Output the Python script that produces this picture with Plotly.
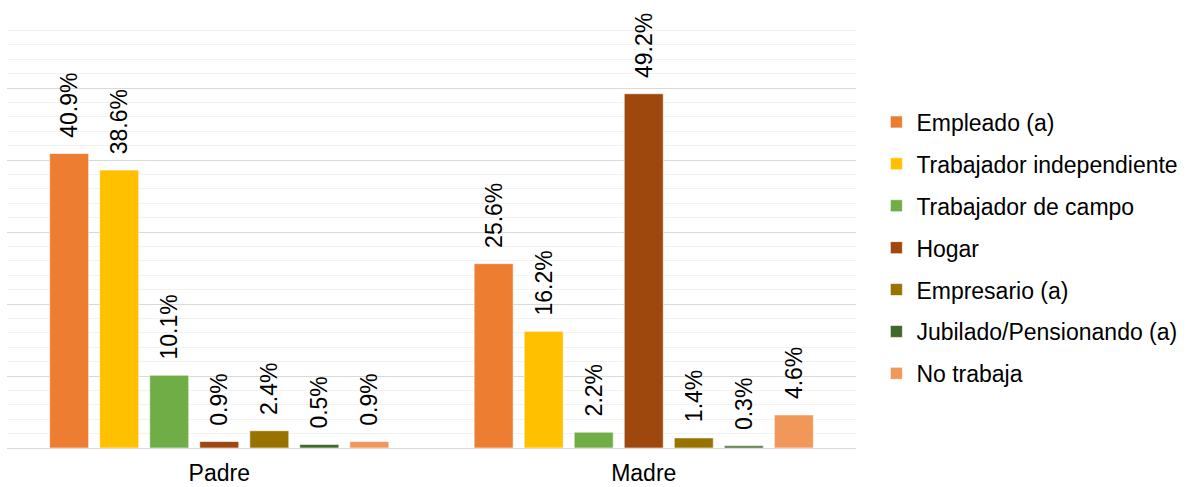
import plotly.graph_objects as go

# Occupation of parents (% of respondents)
groups = ["Padre", "Madre"]
series_names = [
    "Empleado (a)",
    "Trabajador independiente",
    "Trabajador de campo",
    "Hogar",
    "Empresario (a)",
    "Jubilado/Pensionando (a)",
    "No trabaja",
]
padre = [40.9, 38.6, 10.1, 0.9, 2.4, 0.5, 0.9]
madre = [25.6, 16.2, 2.2, 49.2, 1.4, 0.3, 4.6]
colors = ["#ED7D31", "#FFC000", "#70AD47", "#9E480E", "#997300", "#43682B", "#F1975A"]

FONT = "Liberation Sans, Arial, sans-serif"

fig = go.Figure()
for i, name in enumerate(series_names):
    vals = [padre[i], madre[i]]
    fig.add_trace(go.Bar(
        x=groups,
        y=vals,
        name=name,
        legendgroup=name,
        marker=dict(color=colors[i], line=dict(color="rgba(255,255,255,0.6)", width=1)),
        text=[f"{v:.1f}%" for v in vals],
        texttemplate="\u00a0\u00a0%{text}",
        textposition="outside",
        textangle=-90,
        constraintext="none",
        cliponaxis=False,
        textfont=dict(family=FONT, size=23, color="#000000"),
    ))

fig.update_layout(
    width=1190,
    height=487,
    margin=dict(l=7, r=334, t=16, b=39, autoexpand=False),
    paper_bgcolor="white",
    plot_bgcolor="white",
    barmode="group",
    bargap=0.175,
    bargroupgap=0.22,
    font=dict(family=FONT, size=23, color="#000000"),
    showlegend=True,
    legend=dict(
        x=1.024, xanchor="left",
        y=0.463, yanchor="middle",
        tracegroupgap=9,
        font=dict(family=FONT, size=23, color="#000000"),
        bgcolor="rgba(0,0,0,0)",
    ),
)

fig.update_xaxes(
    automargin=False,
    showgrid=False,
    showline=False,
    ticks="",
    ticklabelstandoff=9,
    tickfont=dict(family=FONT, size=23, color="#000000"),
)
fig.update_yaxes(
    automargin=False,
    range=[0, 60],
    dtick=10,
    showticklabels=False,
    showgrid=True,
    gridcolor="#D9D9D9",
    gridwidth=1,
    zeroline=True,
    zerolinecolor="#D9D9D9",
    zerolinewidth=1,
    minor=dict(dtick=2, showgrid=True, gridcolor="#F2F2F2", gridwidth=1),
)

fig.write_html("out.html")
